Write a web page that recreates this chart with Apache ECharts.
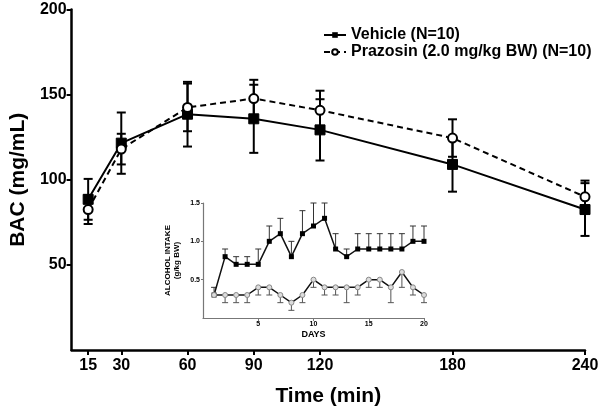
<!DOCTYPE html>
<html><head><meta charset="utf-8">
<script src="https://cdn.jsdelivr.net/npm/echarts@6/dist/echarts.min.js"></script>
<style>html,body{margin:0;padding:0;background:#fff}#c{width:602px;height:412px}</style>
</head><body><div id="c"></div>
<script>
// Main chart data
var times = [15, 30, 60, 90, 120, 180, 240];
var xTicks = [15, 30, 60, 90, 120, 180, 240];
var yTicks = [50, 100, 150, 200];
var vehicleMean = [88.5, 121.5, 138.5, 135.8, 129.3, 109, 82.5];
var vehicleErr  = [12, 18, 19, 20, 18, 16, 15.5];
var prazMean    = [82.5, 118, 142.5, 147.7, 140.8, 124.5, 90];
var prazErr     = [8.5, 9, 14, 11, 11.5, 11, 9.5];
// Inset data
var days = [1,2,3,4,5,6,7,8,9,10,11,12,13,14,15,16,17,18,19,20];
var insetXTicks = [5, 10, 15, 20];
var insetYTicks = [0.5, 1.0, 1.5];
var insetVehicle    = [0.3,0.8,0.7,0.7,0.7,1.0,1.1,0.8,1.1,1.2,1.3,0.9,0.8,0.9,0.9,0.9,0.9,0.9,1.0,1.0];
var insetVehicleErr = [0.1,0.1,0.1,0.1,0.2,0.2,0.2,0.2,0.3,0.3,0.2,0.2,0.1,0.2,0.2,0.2,0.2,0.2,0.2,0.2];
var insetPraz       = [0.3,0.3,0.3,0.3,0.4,0.4,0.3,0.2,0.3,0.5,0.4,0.4,0.4,0.4,0.5,0.5,0.4,0.6,0.4,0.3];
var insetPrazErr    = [0.0,0.1,0.1,0.1,0.1,0.1,0.1,0.1,0.1,0.1,0.1,0.1,0.2,0.1,0.1,0.1,0.2,0.2,0.1,0.1];

var FONT = '"Liberation Sans", Arial, sans-serif';

function errData(xs, m, e) {
  return xs.map(function (x, i) { return [x, m[i] - e[i], m[i] + e[i]]; });
}
function errRender(capHalf, color, width, mode) {
  return function (params, api) {
    var x = api.value(0);
    var lo = api.coord([x, api.value(1)]);
    var hi = api.coord([x, api.value(2)]);
    var mid = api.coord([x, (api.value(1) + api.value(2)) / 2]);
    var top = mode === 'down' ? mid : hi;
    var bot = mode === 'up' ? mid : lo;
    var style = { stroke: color, lineWidth: width, fill: null };
    var children = [
      { type: 'line', shape: { x1: top[0], y1: top[1], x2: bot[0], y2: bot[1] }, style: style }
    ];
    if (mode !== 'down') children.push({ type: 'line', shape: { x1: top[0] - capHalf, y1: top[1], x2: top[0] + capHalf, y2: top[1] }, style: style });
    if (mode !== 'up') children.push({ type: 'line', shape: { x1: bot[0] - capHalf, y1: bot[1], x2: bot[0] + capHalf, y2: bot[1] }, style: style });
    return { type: 'group', children: children };
  };
}

var chart = echarts.init(document.getElementById('c'), null, { renderer: 'canvas' });
chart.setOption({
  animation: false,
  backgroundColor: '#fff',
  textStyle: { fontFamily: FONT },
  legend: {
    left: 318, top: 22, orient: 'vertical', itemGap: 1, itemWidth: 22, itemHeight: 7,
    textStyle: { fontFamily: FONT, fontWeight: 'bold', fontSize: 16, color: '#000' },
    data: ['Vehicle (N=10)', 'Prazosin (2.0 mg/kg BW) (N=10)']
  },
  grid: [
    { left: 62, right: 17, top: 9.5, bottom: 56, containLabel: false },
    { left: 203, right: 178, top: 203, bottom: 94, containLabel: false }
  ],
  xAxis: [
    {
      gridIndex: 0, type: 'value', min: 7.5, max: 240,
      name: 'Time (min)', nameLocation: 'middle', nameGap: 36,
      nameTextStyle: { fontFamily: FONT, fontWeight: 'bold', fontSize: 21, color: '#000' },
      axisLine: { onZero: false, lineStyle: { color: '#000', width: 2.5 } },
      axisTick: { customValues: xTicks, length: 5, lineStyle: { color: '#000', width: 2 } },
      axisLabel: { customValues: xTicks, fontFamily: FONT, fontWeight: 'bold', fontSize: 16, color: '#000', margin: 8 },
      splitLine: { show: false }
    },
    {
      gridIndex: 1, type: 'value', min: 0, max: 20,
      name: 'DAYS', nameLocation: 'middle', nameGap: 12,
      nameTextStyle: { fontFamily: FONT, fontWeight: 'bold', fontSize: 9, color: '#000' },
      axisLine: { onZero: false, lineStyle: { color: '#777', width: 1.2 } },
      axisTick: { customValues: insetXTicks, length: 3, lineStyle: { color: '#777', width: 1 } },
      axisLabel: { customValues: insetXTicks, fontFamily: FONT, fontWeight: 'bold', fontSize: 7, color: '#000', margin: 3 },
      splitLine: { show: false }
    }
  ],
  yAxis: [
    {
      gridIndex: 0, type: 'value', min: 0, max: 200,
      name: 'BAC (mg/mL)', nameLocation: 'middle', nameGap: 40, nameRotate: 90,
      nameTextStyle: { fontFamily: FONT, fontWeight: 'bold', fontSize: 21, color: '#000' },
      axisLine: { show: true, onZero: false, lineStyle: { color: '#000', width: 2.5 } },
      axisTick: { show: true, customValues: yTicks, length: 5, lineStyle: { color: '#000', width: 2 } },
      axisLabel: { customValues: yTicks, fontFamily: FONT, fontWeight: 'bold', fontSize: 16, color: '#000', margin: 5 },
      splitLine: { show: false }
    },
    {
      gridIndex: 1, type: 'value', min: 0, max: 1.5,
      name: 'ALCOHOL INTAKE\n(g/kg BW)', nameLocation: 'middle', nameGap: 22, nameRotate: 90,
      nameTextStyle: { fontFamily: FONT, fontWeight: 'bold', fontSize: 8, color: '#000', lineHeight: 9 },
      axisLine: { show: true, onZero: false, lineStyle: { color: '#777', width: 1.2 } },
      axisTick: { show: true, customValues: insetYTicks, length: 2, lineStyle: { color: '#777', width: 1 } },
      axisLabel: { customValues: insetYTicks, fontFamily: FONT, fontWeight: 'bold', fontSize: 7, color: '#000', margin: 3,
        formatter: function (v) { return v.toFixed(1); } },
      splitLine: { show: false }
    }
  ],
  series: [
    {
      type: 'custom', xAxisIndex: 0, yAxisIndex: 0, silent: true, z: 3,
      renderItem: errRender(4.5, '#000', 2, 'both'),
      data: errData(times, vehicleMean, vehicleErr)
    },
    {
      type: 'custom', xAxisIndex: 0, yAxisIndex: 0, silent: true, z: 3,
      renderItem: errRender(4.5, '#000', 2, 'both'),
      data: errData(times, prazMean, prazErr)
    },
    {
      name: 'Vehicle (N=10)', type: 'line', xAxisIndex: 0, yAxisIndex: 0, z: 5,
      data: times.map(function (t, i) { return [t, vehicleMean[i]]; }),
      symbol: 'rect', symbolSize: 10,
      itemStyle: { color: '#000', borderColor: '#000' },
      lineStyle: { color: '#000', width: 2 }
    },
    {
      name: 'Prazosin (2.0 mg/kg BW) (N=10)', type: 'line', xAxisIndex: 0, yAxisIndex: 0, z: 6,
      data: times.map(function (t, i) { return [t, prazMean[i]]; }),
      symbol: 'circle', symbolSize: 9,
      itemStyle: { color: '#fff', borderColor: '#000', borderWidth: 2 },
      lineStyle: { color: '#000', width: 2, type: [6, 4] }
    },
    {
      type: 'custom', xAxisIndex: 1, yAxisIndex: 1, silent: true, z: 3,
      renderItem: errRender(3, '#333', 1, 'up'),
      data: errData(days, insetVehicle, insetVehicleErr)
    },
    {
      type: 'custom', xAxisIndex: 1, yAxisIndex: 1, silent: true, z: 3,
      renderItem: errRender(3, '#555', 1, 'down'),
      data: errData(days, insetPraz, insetPrazErr)
    },
    {
      type: 'line', xAxisIndex: 1, yAxisIndex: 1, z: 5, silent: true,
      data: days.map(function (d, i) { return [d, insetVehicle[i]]; }),
      symbol: 'rect', symbolSize: 5,
      itemStyle: { color: '#000' },
      lineStyle: { color: '#111', width: 1.5 }
    },
    {
      type: 'line', xAxisIndex: 1, yAxisIndex: 1, z: 6, silent: true,
      data: days.map(function (d, i) { return [d, insetPraz[i]]; }),
      symbol: 'circle', symbolSize: 5,
      itemStyle: { color: '#ddd', borderColor: '#888', borderWidth: 1 },
      lineStyle: { color: '#111', width: 1.5 }
    }
  ]
});
</script>
</body></html>
